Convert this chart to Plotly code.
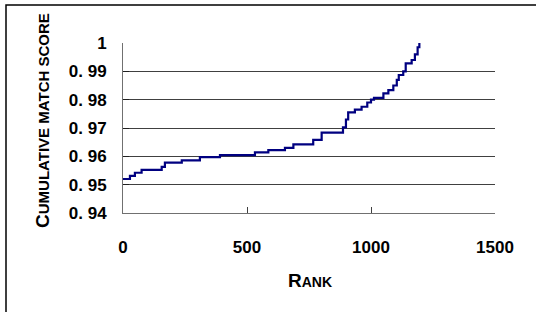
import plotly.graph_objects as go

# Step levels: rank where each level starts, and cumulative match score
rank = [0, 28, 48, 75, 156, 169, 237, 310, 391, 532, 586, 653, 687, 767, 801,
        887, 899, 908, 935, 962, 985, 1000, 1012, 1050, 1070, 1090, 1104, 1112,
        1130, 1140, 1164, 1177, 1188, 1195]
score = [0.9520, 0.9531, 0.9542, 0.9552, 0.9563, 0.9578, 0.9586, 0.9597, 0.9604,
         0.9614, 0.9622, 0.9630, 0.9642, 0.9658, 0.9684, 0.9702, 0.9730, 0.9755,
         0.9765, 0.9775, 0.9790, 0.9800, 0.9806, 0.9822, 0.9834, 0.9850, 0.9870,
         0.9887, 0.9900, 0.9928, 0.9940, 0.9960, 0.9985, 1.0000]

x_tickvals = [0, 500, 1000, 1500]
x_ticktext = ["0", "500", "1000", "1500"]
y_tickvals = [0.94, 0.95, 0.96, 0.97, 0.98, 0.99, 1.0]
y_ticktext = ["0. 94", "0. 95", "0. 96", "0. 97", "0. 98", "0. 99", "1"]

FONT = "Liberation Sans, Arial, sans-serif"

fig = go.Figure()
fig.add_trace(go.Scatter(
    x=rank, y=score, mode="lines", line_shape="hv",
    line=dict(color="#000080", width=2.2), showlegend=False, hoverinfo="skip"))

fig.update_layout(
    width=536, height=312,
    margin=dict(l=123, r=41, t=43, b=99),
    paper_bgcolor="white", plot_bgcolor="white",
    xaxis=dict(range=[0, 1500], tickvals=x_tickvals, ticktext=x_ticktext,
               showgrid=False, zeroline=False, showline=True,
               linecolor="#707070", linewidth=1,
               ticks="inside", ticklen=6, tickcolor="#404040",
               ticklabelstandoff=19,
               tickfont=dict(family=FONT, size=17, color="black", weight="bold")),
    yaxis=dict(range=[0.94, 1.0], tickvals=y_tickvals, ticktext=y_ticktext,
               showgrid=True, gridcolor="#404040", gridwidth=1,
               zeroline=False, showline=True,
               linecolor="#707070", linewidth=1,
               ticks="inside", ticklen=6, tickcolor="#202020",
               ticklabelstandoff=12,
               tickfont=dict(family=FONT, size=17, color="black", weight="bold")),
    annotations=[
        dict(text="R<span style='font-size:14px'>ANK</span>",
             xref="paper", yref="paper",
             x=(310 - 123) / 372, y=(213 - 280) / 170,
             showarrow=False, xanchor="center", yanchor="middle",
             font=dict(family=FONT, size=19, color="black", weight="bold")),
        dict(text="C<span style='font-size:15px'>UMULATIVE MATCH SCORE</span>",
             xref="paper", yref="paper",
             x=(42 - 123) / 372, y=(213 - 121) / 170,
             textangle=-90,
             showarrow=False, xanchor="center", yanchor="middle",
             font=dict(family=FONT, size=19, color="black", weight="bold")),
    ],
    shapes=[
        dict(type="rect", xref="paper", yref="paper",
             x0=(6 - 123) / 372, x1=(545 - 123) / 372,
             y0=(213 - 320) / 170, y1=(213 - 5) / 170,
             line=dict(color="black", width=1.5), fillcolor="rgba(0,0,0,0)",
             layer="below"),
    ],
)

fig.write_html("out.html", config={"displayModeBar": False},
               post_script="document.body.style.margin='0px';")
